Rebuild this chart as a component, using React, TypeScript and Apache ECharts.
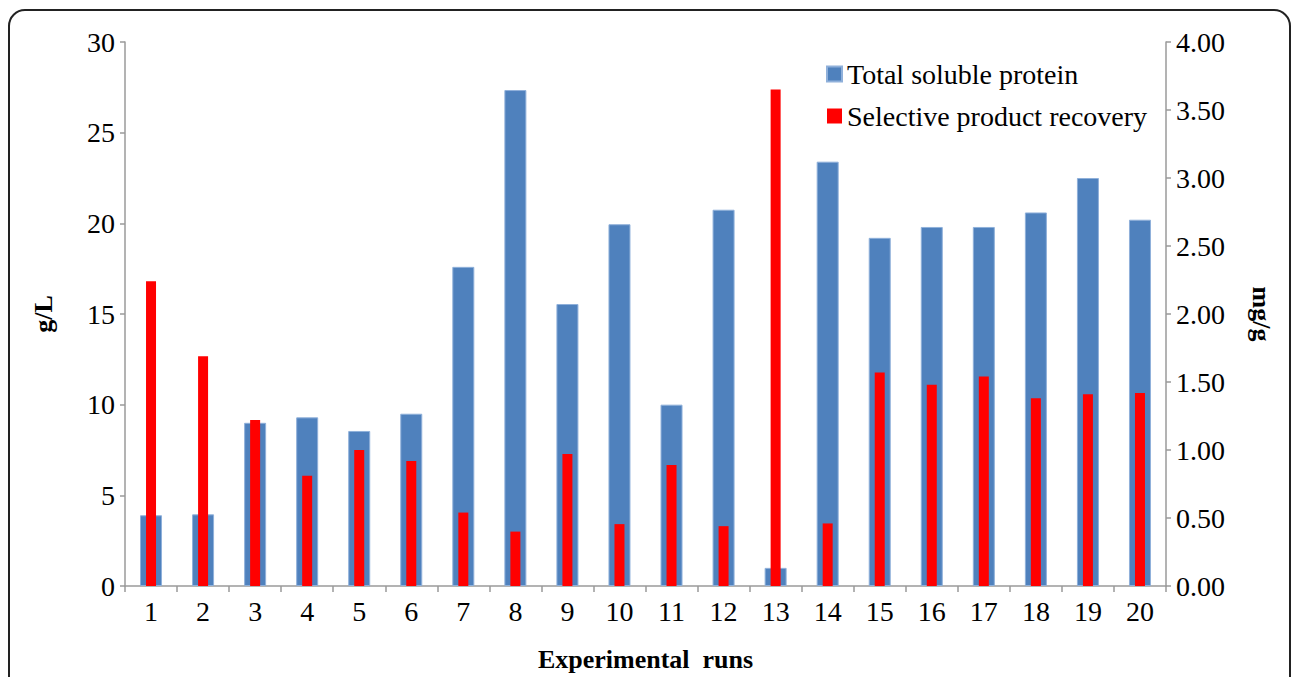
import React, { useEffect, useRef } from "react";
import * as echarts from "echarts";

const runs = ["1","2","3","4","5","6","7","8","9","10","11","12","13","14","15","16","17","18","19","20"];
const totalSolubleProtein = [3.9, 3.95, 9.0, 9.3, 8.55, 9.5, 17.6, 27.35, 15.55, 19.95, 10.0, 20.75, 1.0, 23.4, 19.2, 19.8, 19.8, 20.6, 22.5, 20.2];
const selectiveRecovery = [2.24, 1.69, 1.22, 0.81, 1.0, 0.92, 0.54, 0.40, 0.97, 0.455, 0.89, 0.44, 3.65, 0.46, 1.57, 1.48, 1.54, 1.38, 1.41, 1.42];
const leftTicks = { min: 0, max: 30, interval: 5 };
const rightTicks = { min: 0, max: 4, interval: 0.5 };
const seriesNames = ["Total soluble protein", "Selective product recovery"];

const FONT = "Liberation Serif";

export default function App() {
  const ref = useRef<HTMLDivElement>(null);
  useEffect(() => {
    document.body.style.margin = "0";
    const chart = echarts.init(ref.current!, undefined, { renderer: "svg" });
    const axisLine = { show: true, lineStyle: { color: "#9a9a9a", width: 1.5 } };
    const axisTick = { show: true, length: 5, lineStyle: { color: "#9a9a9a", width: 1.5 } };
    const nameStyle = { fontFamily: FONT, fontSize: 26, fontWeight: "bold", color: "#000" };
    const legendText = { fontFamily: FONT, fontSize: 28, color: "#000", fontWeight: "normal" };
    chart.setOption({
      animation: false,
      backgroundColor: "#ffffff",
      textStyle: { fontFamily: FONT },
      grid: { left: 125, right: 126, top: 42, bottom: 90 },
      graphic: [
        {
          type: "rect",
          shape: { x: 9, y: 10, width: 1281, height: 720, r: 16 },
          style: { fill: "none", stroke: "#222", lineWidth: 2 },
          silent: true,
          z: 100,
        },
      ],
      legend: {
        orient: "vertical",
        left: 826,
        top: 60,
        padding: 0,
        itemWidth: 15,
        itemHeight: 15,
        itemGap: 14,
        icon: "rect",
        textStyle: legendText,
        data: seriesNames,
      },
      xAxis: [
        {
          type: "category",
          data: runs,
          name: "Experimental  runs",
          nameLocation: "middle",
          nameGap: 60,
          nameTextStyle: nameStyle,
          axisLine,
          axisTick: { show: true, length: 6, lineStyle: { color: "#9a9a9a", width: 1.5 } },
          axisLabel: { fontFamily: FONT, fontSize: 28, color: "#000", margin: 11 },
          splitLine: { show: false },
        },
        {
          type: "category",
          data: runs,
          position: "bottom",
          show: false,
        },
      ],
      yAxis: [
        {
          type: "value",
          min: leftTicks.min,
          max: leftTicks.max,
          interval: leftTicks.interval,
          name: "g/L",
          nameLocation: "middle",
          nameGap: 69,
          nameTextStyle: nameStyle,
          axisLine,
          axisTick,
          axisLabel: { fontFamily: FONT, fontSize: 28, color: "#000", margin: 10 },
          splitLine: { show: false },
        },
        {
          type: "value",
          position: "right",
          min: rightTicks.min,
          max: rightTicks.max,
          interval: rightTicks.interval,
          name: "mg/g",
          nameLocation: "middle",
          nameRotate: -90,
          nameGap: 82,
          nameTextStyle: nameStyle,
          axisLine,
          axisTick,
          axisLabel: {
            fontFamily: FONT,
            fontSize: 28,
            color: "#000",
            margin: 10,
            formatter: (v: number) => v.toFixed(2),
          },
          splitLine: { show: false },
        },
      ],
      series: [
        {
          name: seriesNames[0],
          type: "bar",
          xAxisIndex: 0,
          yAxisIndex: 0,
          barWidth: 22,
          data: totalSolubleProtein,
          itemStyle: { color: "#4F81BD", borderColor: "#8fb0da", borderWidth: 1 },
          z: 2,
        },
        {
          name: seriesNames[1],
          type: "bar",
          xAxisIndex: 1,
          yAxisIndex: 1,
          barWidth: 10,
          data: selectiveRecovery,
          itemStyle: { color: "#FF0000" },
          z: 3,
        },
      ],
    });
    return () => chart.dispose();
  }, []);
  return <div ref={ref} style={{ width: 1292, height: 677 }} />;
}
